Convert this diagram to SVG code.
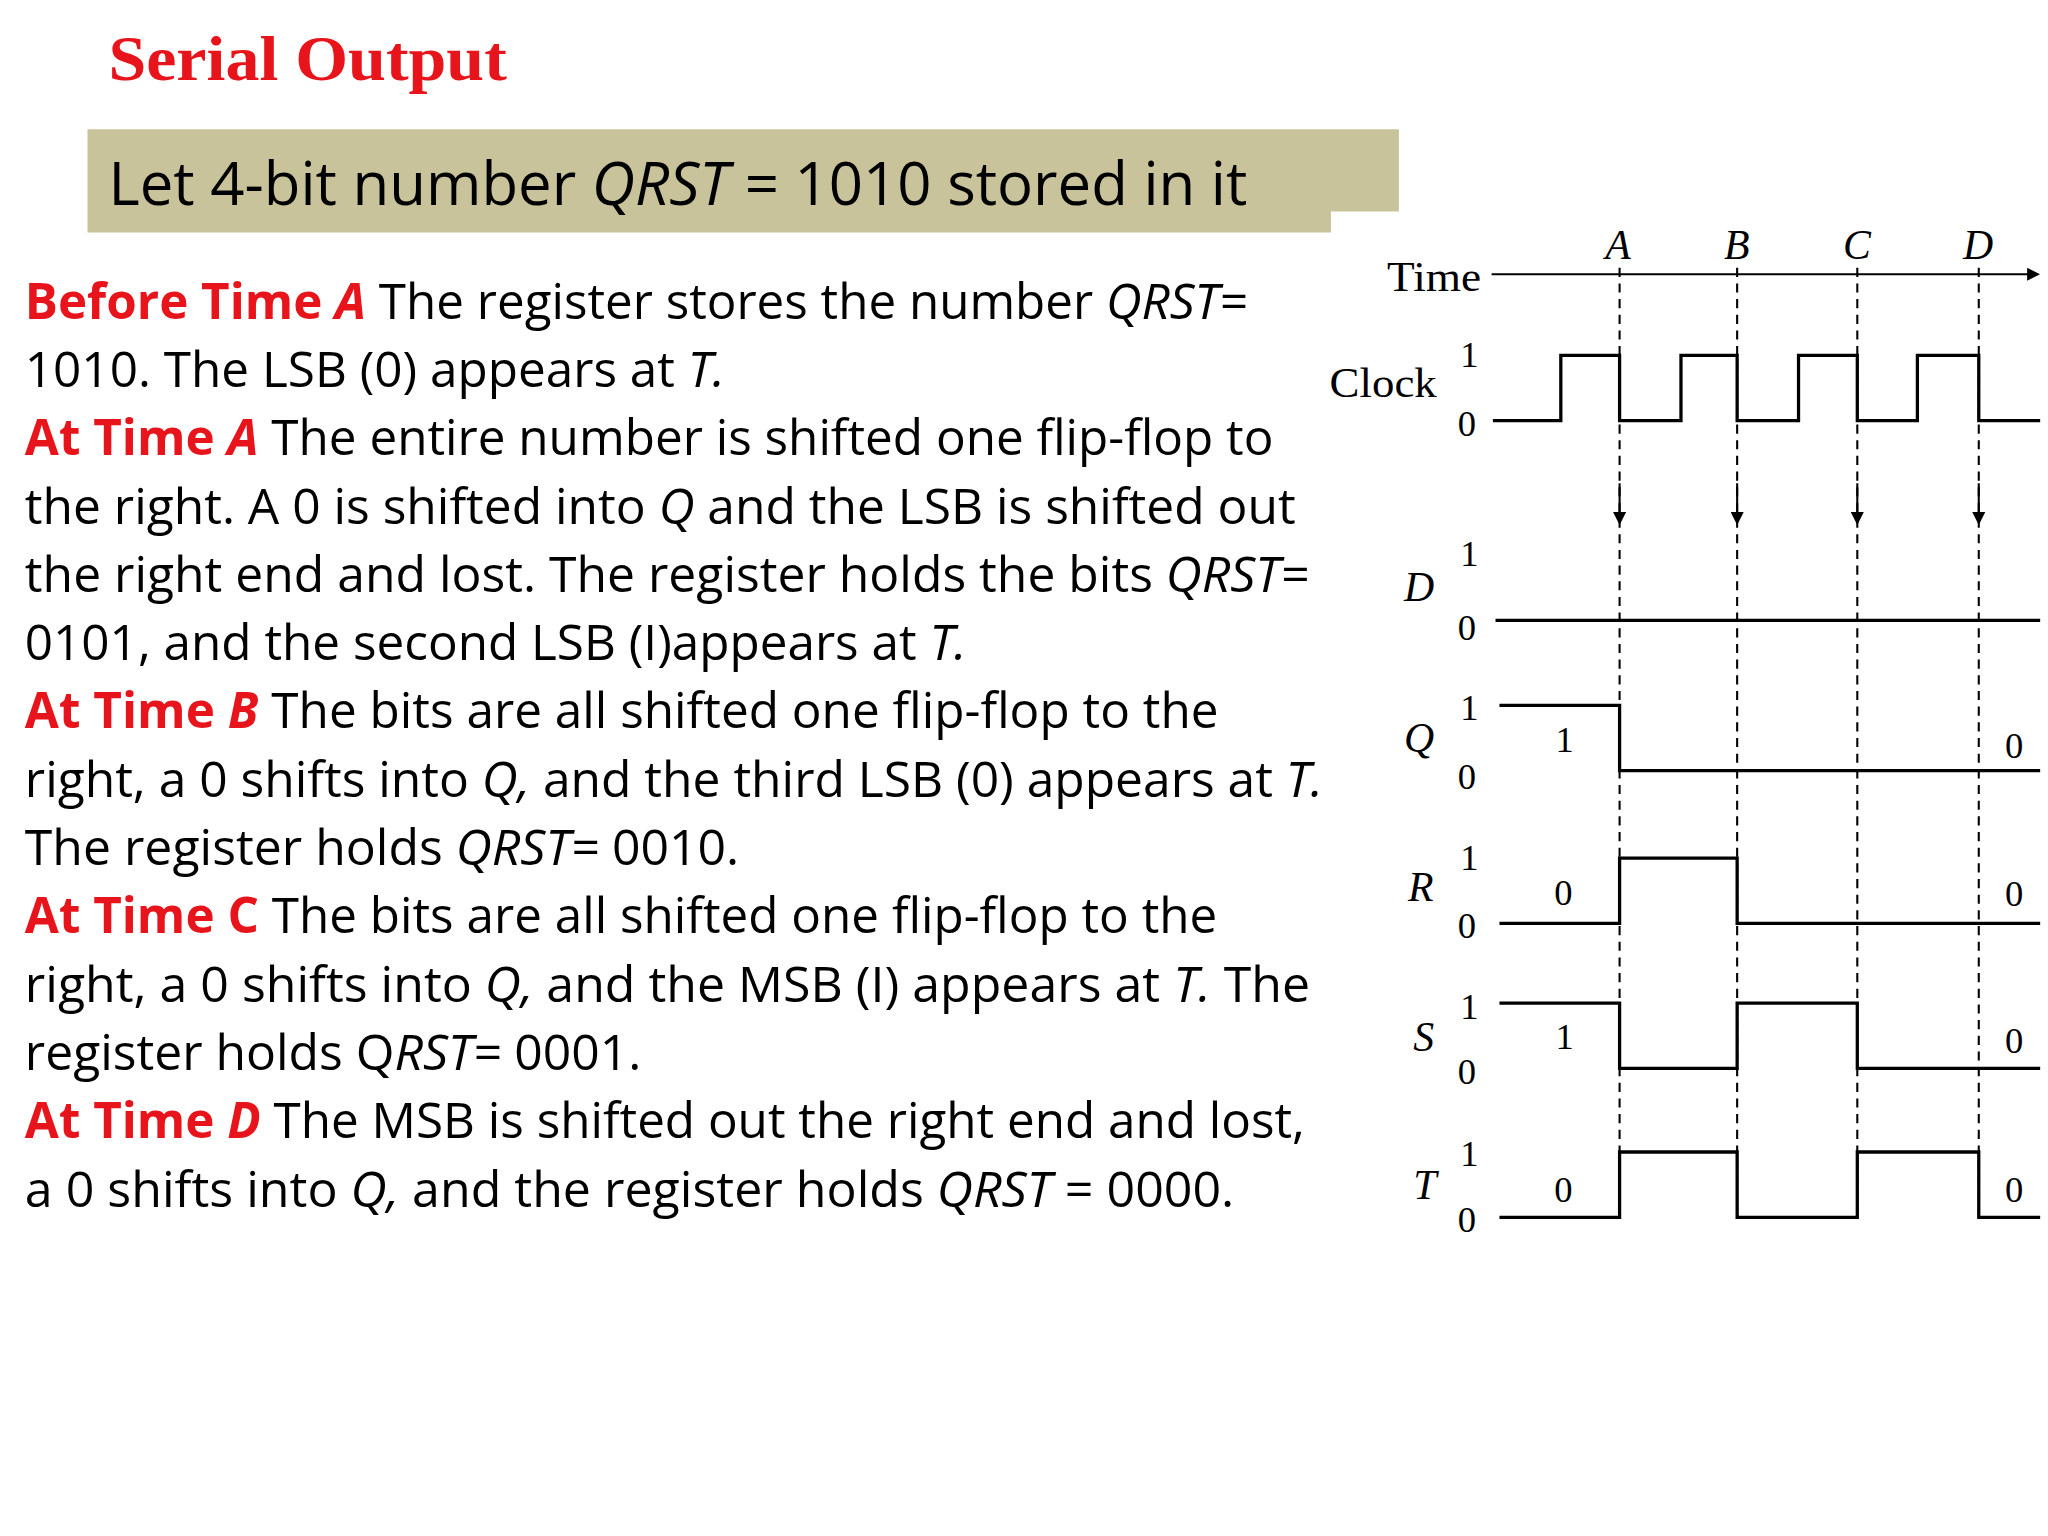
<svg xmlns="http://www.w3.org/2000/svg" width="2048" height="1536" viewBox="0 0 2048 1536">
<defs>
<style>
.b{font-family:"Open Sans","Liberation Sans",sans-serif;font-size:38px;fill:#000}
.r{fill:#e8141c;font-weight:bold}
.s{font-family:"Liberation Serif",serif;font-size:32px;fill:#000}
.w{fill:none;stroke:#000;stroke-width:2.5}
.d{stroke:#000;stroke-width:1.6;stroke-dasharray:7,5}
</style>
<marker id="ah" markerWidth="10" markerHeight="10" refX="8" refY="5" orient="auto" markerUnits="userSpaceOnUse"><path d="M0,0L10,5L0,10z" fill="#000"/></marker>
</defs>
<rect width="2048" height="1536" fill="#fff"/>
<g transform="scale(1.30612)">
<g id="title"><text x="83" y="61" font-family="Liberation Serif,serif" font-weight="bold" font-size="48" fill="#e8141c" textLength="305" lengthAdjust="spacingAndGlyphs">Serial Output</text></g>
<g id="banner">
<path d="M67,99H1071V162H1019V178H67Z" fill="#c9c39b"/>
<text x="83" y="157" class="b" style="font-size:46px" textLength="872" lengthAdjust="spacingAndGlyphs">Let 4-bit number <tspan font-style="italic">QRST</tspan> = 1010 stored in it</text>
</g>
<g id="body" class="b">
<text x="19" y="244" textLength="936" lengthAdjust="spacingAndGlyphs"><tspan class="r">Before Time <tspan font-style="italic">A</tspan></tspan> The register stores the number <tspan font-style="italic">QRST=</tspan></text>
<text x="19" y="296" textLength="536" lengthAdjust="spacingAndGlyphs">1010. The LSB (0) appears at <tspan font-style="italic">T.</tspan></text>
<text x="19" y="348" textLength="956" lengthAdjust="spacingAndGlyphs"><tspan class="r">At Time <tspan font-style="italic">A</tspan></tspan> The entire number is shifted one flip-flop to</text>
<text x="19" y="401" textLength="973" lengthAdjust="spacingAndGlyphs">the right. A 0 is shifted into <tspan font-style="italic">Q</tspan> and the LSB is shifted out</text>
<text x="19" y="453" textLength="983" lengthAdjust="spacingAndGlyphs">the right end and lost. The register holds the bits <tspan font-style="italic">QRST=</tspan></text>
<text x="19" y="505" textLength="721" lengthAdjust="spacingAndGlyphs">0101, and the second LSB (I)appears at <tspan font-style="italic">T.</tspan></text>
<text x="19" y="557" textLength="914" lengthAdjust="spacingAndGlyphs"><tspan class="r">At Time <tspan font-style="italic">B</tspan></tspan> The bits are all shifted one flip-flop to the</text>
<text x="19" y="610" textLength="994" lengthAdjust="spacingAndGlyphs">right, a 0 shifts into <tspan font-style="italic">Q,</tspan> and the third LSB (0) appears at <tspan font-style="italic">T.</tspan></text>
<text x="19" y="662" textLength="547" lengthAdjust="spacingAndGlyphs">The register holds <tspan font-style="italic">QRST=</tspan> 0010.</text>
<text x="19" y="714" textLength="913" lengthAdjust="spacingAndGlyphs"><tspan class="r">At Time C</tspan> The bits are all shifted one flip-flop to the</text>
<text x="19" y="767" textLength="984" lengthAdjust="spacingAndGlyphs">right, a 0 shifts into <tspan font-style="italic">Q,</tspan> and the MSB (I) appears at <tspan font-style="italic">T.</tspan> The</text>
<text x="19" y="819" textLength="472" lengthAdjust="spacingAndGlyphs">register holds Q<tspan font-style="italic">RST=</tspan> 0001.</text>
<text x="19" y="871" textLength="980" lengthAdjust="spacingAndGlyphs"><tspan class="r">At Time <tspan font-style="italic">D</tspan></tspan> The MSB is shifted out the right end and lost,</text>
<text x="19" y="924" textLength="926" lengthAdjust="spacingAndGlyphs">a 0 shifts into <tspan font-style="italic">Q,</tspan> and the register holds <tspan font-style="italic">QRST</tspan> = 0000.</text>
</g>
<g id="timing">
<g class="s">
<text x="1062" y="223" textLength="72" lengthAdjust="spacingAndGlyphs">Time</text>
<text x="1229" y="198" font-style="italic">A</text><text x="1320" y="198" font-style="italic">B</text><text x="1411" y="198" font-style="italic">C</text><text x="1503" y="198" font-style="italic">D</text>
<text x="1018" y="304" textLength="82" lengthAdjust="spacingAndGlyphs">Clock</text>
<text x="1118" y="281" font-size="28">1</text><text x="1116" y="334" font-size="28">0</text>
<text x="1075" y="460" font-style="italic">D</text><text x="1118" y="433" font-size="28">1</text><text x="1116" y="490" font-size="28">0</text>
<text x="1075" y="576" font-style="italic">Q</text><text x="1118" y="551" font-size="28">1</text><text x="1116" y="604" font-size="28">0</text>
<text x="1078" y="690" font-style="italic">R</text><text x="1118" y="666" font-size="28">1</text><text x="1116" y="718" font-size="28">0</text>
<text x="1082" y="805" font-style="italic">S</text><text x="1118" y="780" font-size="28">1</text><text x="1116" y="830" font-size="28">0</text>
<text x="1082" y="918" font-style="italic">T</text><text x="1118" y="893" font-size="28">1</text><text x="1116" y="943" font-size="28">0</text>
<text x="1191" y="576" font-size="28">1</text><text x="1190" y="693" font-size="28">0</text><text x="1191" y="803" font-size="28">1</text><text x="1190" y="920" font-size="28">0</text>
<text x="1535" y="580" font-size="28">0</text><text x="1535" y="694" font-size="28">0</text><text x="1535" y="806" font-size="28">0</text><text x="1535" y="920" font-size="28">0</text>
</g>
<g id="connectors">
<line x1="1142" y1="210" x2="1560" y2="210" stroke="#000" stroke-width="1.6" marker-end="url(#ah)"/>
<line class="d" x1="1240" y1="205" x2="1240" y2="935"/>
<line class="d" x1="1330" y1="205" x2="1330" y2="935"/>
<line class="d" x1="1422" y1="205" x2="1422" y2="935"/>
<line class="d" x1="1515" y1="205" x2="1515" y2="935"/>
<line x1="1240" y1="370" x2="1240" y2="400" stroke="#000" stroke-width="1.6" marker-end="url(#ah)"/>
<line x1="1330" y1="370" x2="1330" y2="400" stroke="#000" stroke-width="1.6" marker-end="url(#ah)"/>
<line x1="1422" y1="370" x2="1422" y2="400" stroke="#000" stroke-width="1.6" marker-end="url(#ah)"/>
<line x1="1515" y1="370" x2="1515" y2="400" stroke="#000" stroke-width="1.6" marker-end="url(#ah)"/>
</g>
<path class="w" d="M1143,322H1195V272H1240V322H1287V272H1330V322H1377V272H1422V322H1468V272H1515V322H1562"/>
<path class="w" d="M1145,475H1562"/>
<path class="w" d="M1148,540H1240V590H1562"/>
<path class="w" d="M1148,707H1240V657H1330V707H1562"/>
<path class="w" d="M1148,768H1240V818H1330V768H1422V818H1562"/>
<path class="w" d="M1148,932H1240V882H1330V932H1422V882H1515V932H1562"/>
</g>
</g>
</svg>
